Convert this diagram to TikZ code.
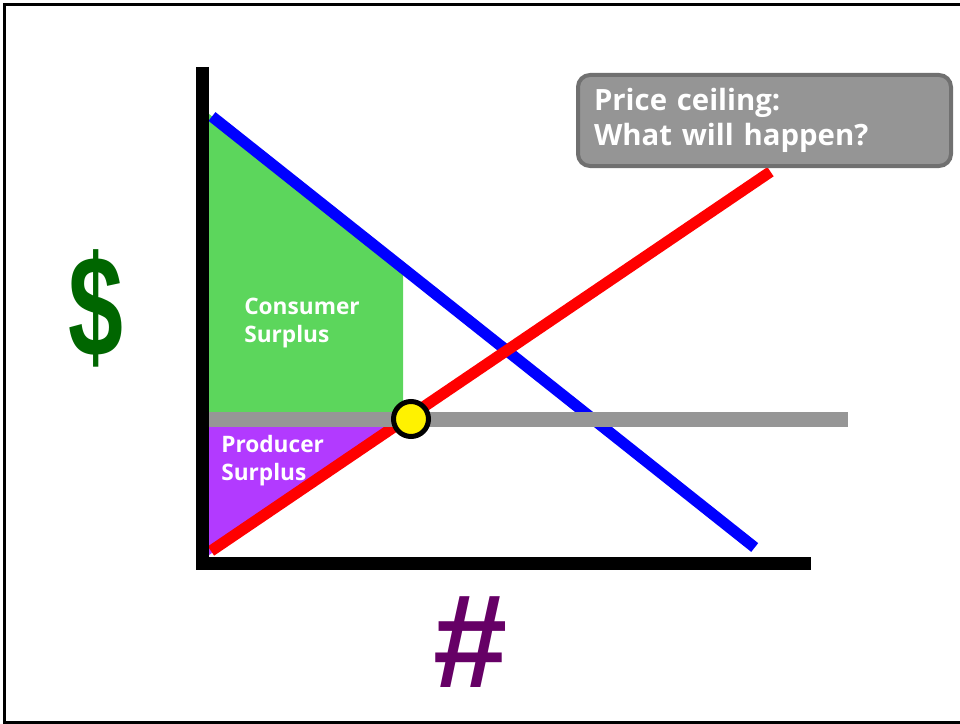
\documentclass[tikz,border=0pt]{standalone}
\usepackage{graphicx}
\usepackage{fontspec}
\setmainfont{Open Sans}
\newfontfamily\glyphfont{Liberation Sans}
\definecolor{csG}{RGB}{92,214,92}
\definecolor{psP}{RGB}{178,58,255}
\definecolor{pcG}{RGB}{150,150,150}
\definecolor{boxF}{RGB}{149,149,149}
\definecolor{boxD}{RGB}{112,112,112}
\definecolor{dolG}{RGB}{0,102,0}
\definecolor{numP}{RGB}{102,0,102}
\newcommand{\LW}{8.4pt}
\newcommand{\AX}{9.75pt}

\begin{document}
\begin{tikzpicture}[x=0.75pt, y=-0.75pt,
    curve/.style={line width=\LW},
    axis/.style={draw=black, line width=\AX},
    ceil/.style={draw=pcG, line width=11.6pt},
    lbl/.style={text=white, font=\bfseries\fontsize{17}{20.7}\selectfont, align=left, inner sep=0pt},
    big/.style={font=\glyphfont\bfseries\fontsize{100}{100}\selectfont, inner sep=0pt},
    eqdot/.style={circle, draw=black, fill=yellow, line width=3.75pt, minimum size=26.25pt, inner sep=0pt},
    callout/.style={rectangle, rounded corners=9pt, draw=boxD, fill=boxF, line width=3pt,
      minimum width=279.75pt, minimum height=68.25pt, text width=255.75pt, inner xsep=12pt,
      align=left, text=white, font=\bfseries\fontsize{22}{26.25}\selectfont},
  ]
  \useasboundingbox (0,0) rectangle (960,724);
  \draw[line width=2.25pt] (975,4.5) -- (4.5,4.5) -- (4.5,722.5) -- (975,722.5);

  % end points of the curves and axes
  \coordinate (dTop) at (212,116.5);
  \coordinate (dEnd) at (754.7,547.5);
  \coordinate (sLow) at (211,551);
  \coordinate (sTop) at (770.5,171.7);
  \coordinate (yTop) at (202.5,67);
  \coordinate (org)  at (202.5,563.5);
  \coordinate (xEnd) at (811,563.5);
  \coordinate (cL)   at (208,419.75);
  \coordinate (cR)   at (848,419.75);

  % surplus areas
  \fill[csG] (209,114) -- (403,268) -- (403,412) -- (209,412) -- cycle;
  \fill[psP] (209,427) -- (400,427) -- (209,555) -- cycle;
  \node[lbl, anchor=north west] (cs) at (244,298) {Consumer\\Surplus};
  \node[lbl, anchor=north west] (ps) at (221,435) {Producer\\Surplus};

  % demand, supply, ceiling
  \draw[curve, blue] (dTop) -- (dEnd);
  \draw[curve, red] (sLow) -- (sTop);
  \draw[ceil] (cL) -- (cR);
  \node[eqdot] (eq) at (411,419) {};

  % axes
  \draw[axis] (yTop) -- (202.5,570);
  \draw[axis] (196,563.5) -- (xEnd);
  \node[big, text=dolG] (dol) at (96,308) {\scalebox{0.74}[1.08]{\$}};
  \node[big, text=numP] (num) at (471,642) {\#};

  \node[callout] (q) at (764.5,120.5) {Price ceiling:\\What will happen?};
\end{tikzpicture}
\end{document}
